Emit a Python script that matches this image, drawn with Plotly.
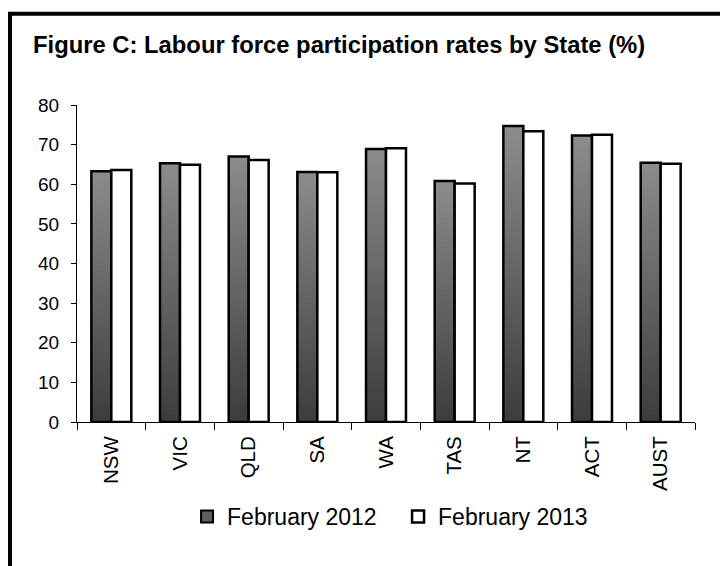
import plotly.graph_objects as go

# Labour force participation rates (%) by State
states = ["NSW", "VIC", "QLD", "SA", "WA", "TAS", "NT", "ACT", "AUST"]
feb_2012 = [63.3, 65.3, 67.0, 63.1, 68.9, 60.8, 74.7, 72.3, 65.4]
feb_2013 = [63.6, 64.9, 66.1, 63.0, 69.1, 60.2, 73.4, 72.5, 65.2]
series_names = ["February 2012", "February 2013"]
y_ticks = [0, 10, 20, 30, 40, 50, 60, 70, 80]

W, H = 720, 566
ML, MR, MT, MB = 77, 25, 105, 144
PW, PH = W - ML - MR, H - MT - MB

FONT = "Liberation Sans, Arial, sans-serif"
N_STEPS = 40  # layers used to shade the 2012 bars from dark (bottom) to light (top)


def shade(t):
    lo, hi = 0x3c, 0x8c
    v = int(round(lo + (hi - lo) * t))
    return f"rgb({v},{v},{v})"


fig = go.Figure()

# gradient-filled 2012 bars: each layer runs from its own base up to the bar top,
# so lighter layers sit over darker ones without seams
for k in range(N_STEPS):
    fig.add_trace(go.Bar(
        x=states,
        y=[v * (N_STEPS - k) / N_STEPS for v in feb_2012],
        base=[v * k / N_STEPS for v in feb_2012],
        offsetgroup="2012",
        marker=dict(color=shade((k + 0.5) / N_STEPS), line=dict(width=0)),
        showlegend=False,
        hoverinfo="skip",
    ))

# outline of the 2012 bars
fig.add_trace(go.Bar(
    x=states, y=feb_2012, offsetgroup="2012",
    marker=dict(color="rgba(0,0,0,0)", line=dict(color="black", width=2.5)),
    showlegend=False, name=series_names[0],
))

# legend entry for 2012
fig.add_trace(go.Bar(
    x=states, y=[None] * len(states), offsetgroup="2012",
    name=series_names[0],
    marker=dict(color="#5e5e5e", line=dict(color="black", width=2)),
))

# 2013 bars
fig.add_trace(go.Bar(
    x=states, y=feb_2013, offsetgroup="2013",
    name=series_names[1],
    marker=dict(color="white", line=dict(color="black", width=2.5)),
))

fig.update_layout(
    width=W, height=H,
    margin=dict(l=ML, r=MR, t=MT, b=MB),
    paper_bgcolor="white", plot_bgcolor="white",
    font=dict(family=FONT, color="black"),
    barmode="group", bargap=0.418, bargroupgap=0,
    title=dict(
        text="<b>Figure C: Labour force participation rates by State (%)</b>",
        font=dict(size=23.8, family=FONT, color="black"),
        xref="container", yref="container",
        x=33 / W, xanchor="left",
        y=1 - 45 / H, yanchor="middle",
    ),
    xaxis=dict(
        type="category", tickangle=-90, tickson="boundaries",
        ticks="outside", ticklen=7, tickcolor="black",
        showline=True, linecolor="black", linewidth=1,
        showgrid=False, tickfont=dict(size=20.5, family=FONT),
        ticklabelstandoff=5,
    ),
    yaxis=dict(
        range=[0, 80], tickvals=y_ticks, ticks="outside", ticklen=5,
        tickcolor="black", showline=True, linecolor="black", linewidth=1,
        showgrid=False, zeroline=False, tickfont=dict(size=19, family=FONT),
        ticklabelstandoff=8,
    ),
    legend=dict(
        orientation="h", x=0.5195, xanchor="center",
        y=(MT + PH - 516.5) / PH, yanchor="middle",
        font=dict(size=23, family=FONT), entrywidth=166,
        bgcolor="rgba(0,0,0,0)",
    ),
    shapes=[
        # heavy frame along the top and left of the figure
        dict(type="rect", xref="paper", yref="paper",
             x0=(10 - ML) / PW, x1=(760 - ML) / PW,
             y0=(MT + PH - 600) / PH, y1=(MT + PH - 13.7) / PH,
             line=dict(color="black", width=4), fillcolor="rgba(0,0,0,0)",
             layer="above"),
    ],
)

fig.write_html("out.html")
